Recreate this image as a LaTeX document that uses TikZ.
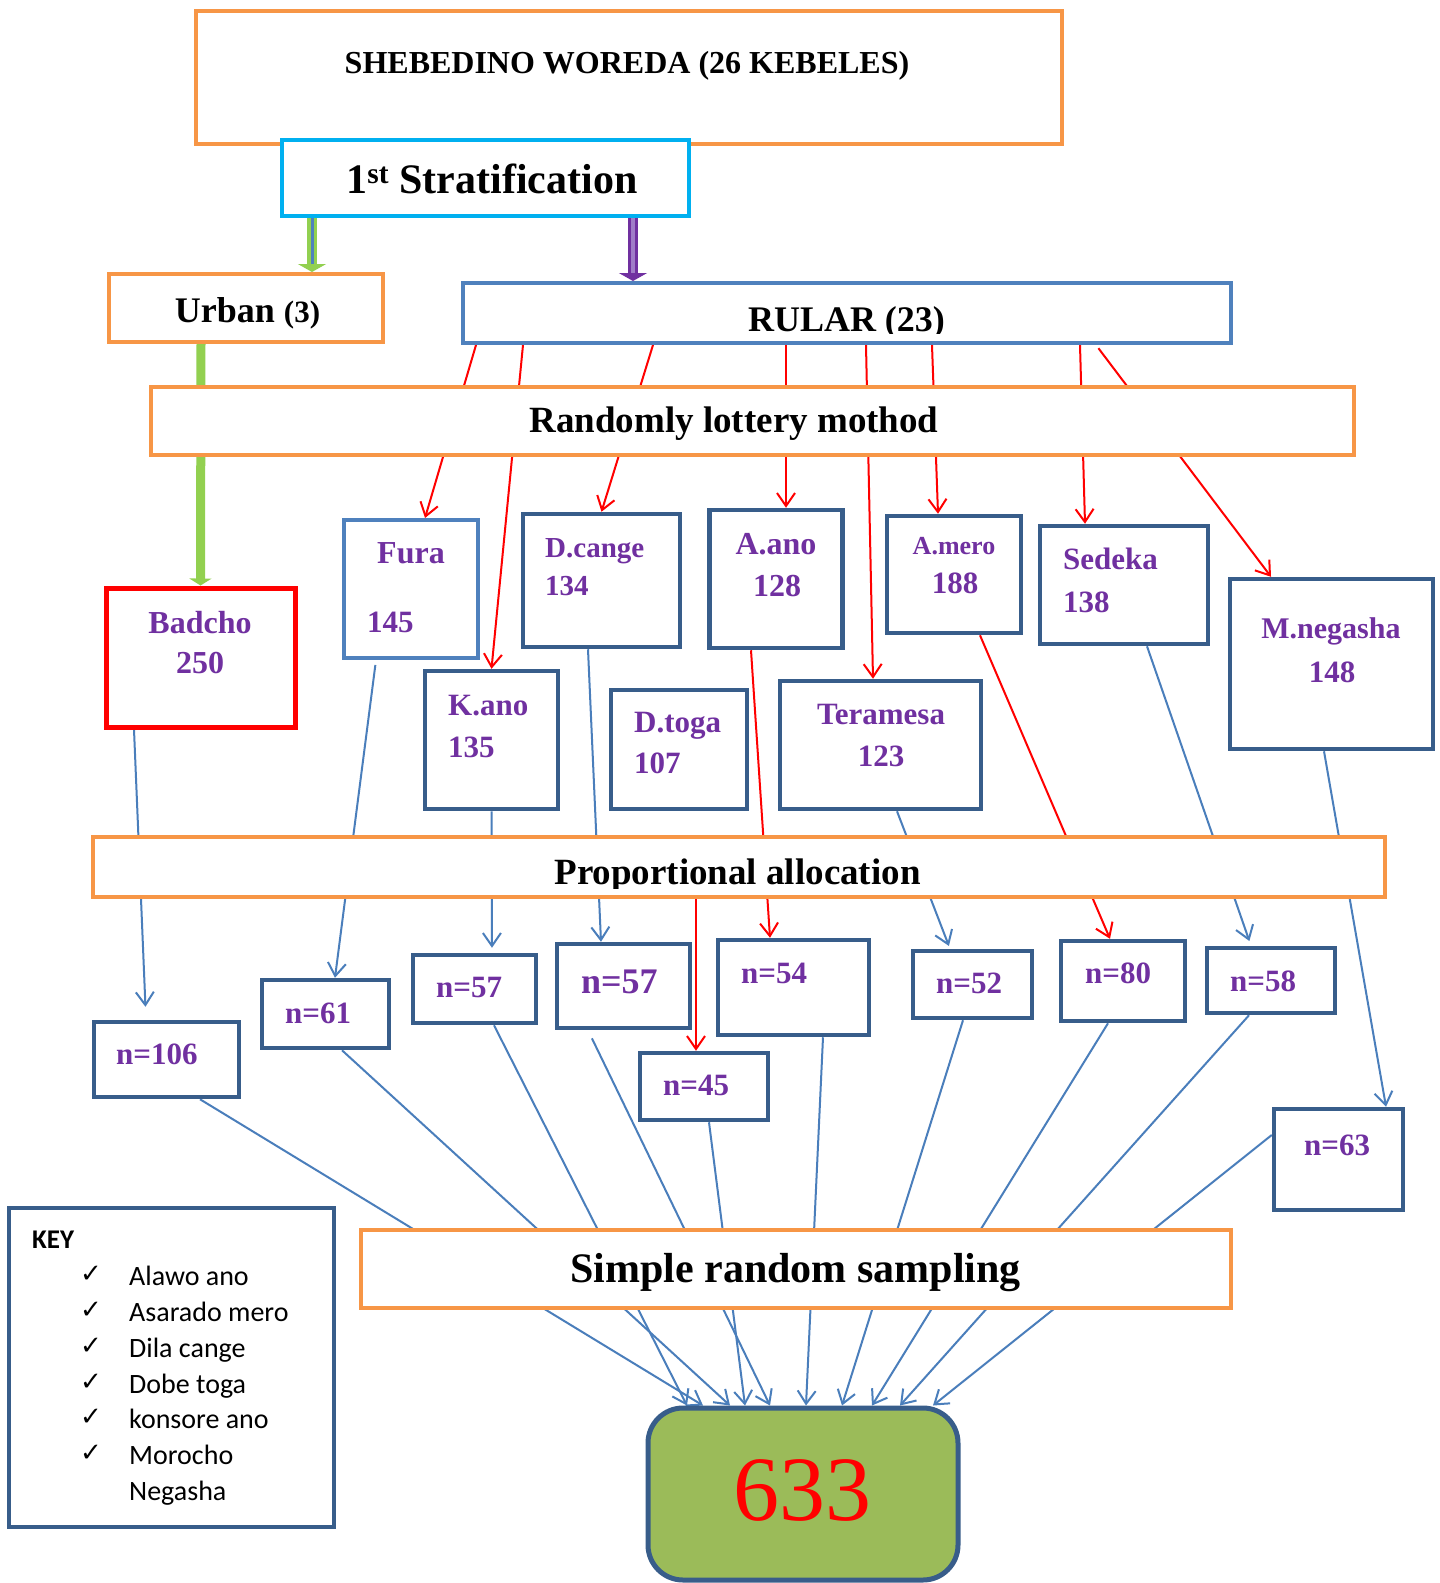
\documentclass[tikz,border=0pt]{standalone}
\usepackage{fontspec}
\setmainfont{Liberation Serif}
\newfontfamily\keyfont{Carlito}
\newfontfamily\chkfont{DejaVu Sans}
\usetikzlibrary{arrows.meta,backgrounds}
\definecolor{orng}{HTML}{F79646}
\definecolor{cyanb}{HTML}{00B0F0}
\definecolor{lblue}{HTML}{4F81BD}
\definecolor{dblue}{HTML}{385D8A}
\definecolor{cblue}{HTML}{4A7EBB}
\definecolor{grn}{HTML}{92D050}
\definecolor{purp}{HTML}{7030A0}
\definecolor{lilac}{HTML}{A07CC8}
\definecolor{olive}{HTML}{9BBB59}
\newcommand\fsz[1]{\fontsize{#1pt}{#1pt}\selectfont}
\begin{document}
\begin{tikzpicture}[x=1pt,y=-1pt,
  obox/.style={draw=orng, line width=4pt, fill=white, inner sep=0pt},
  bbox/.style={draw=dblue, line width=4.5pt, fill=white, inner sep=0pt},
  lbox/.style={draw=lblue, line width=4pt, fill=white, inner sep=0pt},
  ttl/.style={font={\bfseries\fsz{#1}}, inner sep=0pt, anchor=base},
  kt/.style={font={\bfseries\fsz{#1}}, text=purp, inner sep=0pt},
  keyt/.style={font={\keyfont\fsz{28}}, inner sep=0pt, anchor=base west},
  chk/.style={font={\chkfont\fsz{26}}, inner sep=0pt, anchor=base west},
  redarr/.style={draw=red, line width=2pt, -{Straight Barb[length=13pt,width=18pt]}},
  bluearr/.style={draw=cblue, line width=2pt, -{Straight Barb[length=13pt,width=18pt]}}]
\useasboundingbox (0,0) rectangle (1440,1583);

% ---------- top level boxes
\node[obox, minimum width=866pt, minimum height=133pt] (sheb) at (629,77.5) {};
\node[ttl=32] (tsheb) at (627,73) {SHEBEDINO WOREDA (26 KEBELES)};
\node[draw=cyanb, line width=4.5pt, fill=white, inner sep=0pt, minimum width=407pt, minimum height=76pt] (strat) at (485.5,178) {};
\node[ttl=42] (tstrat) at (492,193) {1\textsuperscript{st} Stratification};
\node[obox, minimum width=274pt, minimum height=68pt] (urban) at (246,308) {};
\node[ttl=36] (turban) at (247.5,322) {Urban {\fsz{31}(3)}};
\node[lbox, minimum width=768pt, minimum height=60pt] (rular) at (847,313) {};
\begin{scope}
  \clip (rular.north west) rectangle ([yshift=12pt]rular.south east);
  \node[ttl=36] (trular) at (846.5,331) {RULAR (23)};
\end{scope}
\node[obox, minimum width=1203pt, minimum height=68pt] (rlm) at (752.5,421) {};
\node[ttl=37] (trlm) at (734,432) {Randomly lottery mothod};

% ---------- kebele boxes
\node[draw=red, line width=5pt, fill=white, inner sep=0pt, minimum width=189pt, minimum height=139pt] (badcho) at (200.5,657.5) {};
\node[kt=32, anchor=base] (tbad1) at (200,633) {Badcho};
\node[kt=32, anchor=base] (tbad2) at (200,673) {250};

\node[lbox, minimum width=134pt, minimum height=138pt] (fura) at (411,589) {};
\node[kt=32, anchor=base] (tfura1) at (411,563) {Fura};
\node[kt=31, anchor=base west] (tfura2) at (367,632) {145};

\node[bbox, minimum width=133pt, minimum height=138pt] (kano) at (491.5,740) {};
\node[kt=31, anchor=base west] (tkano1) at (448,715) {K.ano};
\node[kt=31, anchor=base west] (tkano2) at (448,757) {135};

\node[bbox, minimum width=157pt, minimum height=133pt] (dcange) at (601.5,580.5) {};
\node[kt=29, anchor=base west] (tdc1) at (545,557) {D.cange};
\node[kt=29, anchor=base west] (tdc2) at (545,595) {134};

\node[bbox, minimum width=136pt, minimum height=119pt] (dtoga) at (679,749.5) {};
\node[kt=31, anchor=base west] (tdt1) at (634,732) {D.toga};
\node[kt=31, anchor=base west] (tdt2) at (634,773) {107};

\node[bbox, minimum width=133pt, minimum height=138pt] (aano) at (776,579) {};
\node[kt=32, anchor=base] (taa1) at (776,554) {A.ano};
\node[kt=32, anchor=base] (taa2) at (777,596) {128};

\node[bbox, minimum width=134pt, minimum height=117pt] (amero) at (954,574.5) {};
\node[kt=26, anchor=base] (tam1) at (954,554) {A.mero};
\node[kt=31, anchor=base] (tam2) at (955,593) {188};

\node[bbox, minimum width=168pt, minimum height=118pt] (sedeka) at (1124,585) {};
\node[kt=31, anchor=base west] (tse1) at (1063,569) {Sedeka};
\node[kt=31, anchor=base west] (tse2) at (1063,612) {138};

\node[bbox, minimum width=203pt, minimum height=170pt] (mneg) at (1331.5,664) {};
\node[kt=30, anchor=base] (tmn1) at (1331,638) {M.negasha};
\node[kt=31, anchor=base] (tmn2) at (1332,682) {148};

\node[bbox, minimum width=201pt, minimum height=128pt] (teramesa) at (880.5,745) {};
\node[kt=31, anchor=base] (tte1) at (881,724) {Teramesa};
\node[kt=31, anchor=base] (tte2) at (881,766) {123};

% ---------- proportional allocation
\node[obox, minimum width=1292pt, minimum height=60pt] (pa) at (739,867) {};
\begin{scope}
  \clip (pa.north west) rectangle ([yshift=11pt]pa.south east);
  \node[ttl=37] (tpa) at (737.5,884.5) {Proportional allocation};
\end{scope}

% ---------- sample size boxes
\node[bbox, minimum width=145pt, minimum height=75pt] (n106) at (166.5,1059.5) {};
\node[kt=31, anchor=base west] (tn106) at (116,1064) {n=106};
\node[bbox, minimum width=127pt, minimum height=68pt] (n61) at (325.5,1014) {};
\node[kt=31, anchor=base west] (tn61) at (285,1023) {n=61};
\node[bbox, minimum width=123pt, minimum height=68pt] (n57a) at (474.5,989) {};
\node[kt=31, anchor=base west] (tn57a) at (436,997) {n=57};
\node[bbox, minimum width=133pt, minimum height=84pt] (n57b) at (623.5,986) {};
\node[kt=36, anchor=base west] (tn57b) at (581,993) {n=57};
\node[bbox, minimum width=128pt, minimum height=67pt] (n45) at (704,1086.5) {};
\node[kt=31, anchor=base west] (tn45) at (663,1095) {n=45};
\node[bbox, minimum width=151pt, minimum height=95pt] (n54) at (793.5,987.5) {};
\node[kt=31, anchor=base west] (tn54) at (741,983) {n=54};
\node[bbox, minimum width=119pt, minimum height=67pt] (n52) at (972.5,984.5) {};
\node[kt=31, anchor=base west] (tn52) at (936,993) {n=52};
\node[bbox, minimum width=124pt, minimum height=80pt] (n80) at (1123,981) {};
\node[kt=31, anchor=base west] (tn80) at (1085,983) {n=80};
\node[bbox, minimum width=128pt, minimum height=65pt] (n58) at (1271,980.5) {};
\node[kt=31, anchor=base west] (tn58) at (1230,991) {n=58};
\node[bbox, minimum width=129pt, minimum height=101pt] (n63) at (1338.5,1159.5) {};
\node[kt=31, anchor=base west] (tn63) at (1304,1155) {n=63};

% ---------- simple random sampling and total
\node[obox, minimum width=870pt, minimum height=78pt] (srs) at (796,1269) {};
\node[ttl=42] (tsrs) at (795.5,1282) {Simple random sampling};
\node[draw=dblue, line width=5pt, fill=olive, rounded corners=35pt, inner sep=0pt, minimum width=310pt, minimum height=172pt] (b633) at (803,1494) {};
\node[font=\fsz{92}, text=red, inner sep=0pt, anchor=base] (t633) at (802,1520) {633};

% ---------- key
\node[bbox, minimum width=325pt, minimum height=319pt] (key) at (171.5,1367.5) {};
\node[font={\keyfont\bfseries\fsz{27}}, inner sep=0pt, anchor=base west] (tkey) at (32,1248) {KEY};
\node[chk] (c1) at (80,1282) {✓};
\node[keyt] (k1) at (129,1285) {Alawo ano};
\node[chk] (c2) at (80,1318) {✓};
\node[keyt] (k2) at (129,1321) {Asarado mero};
\node[chk] (c3) at (80,1354) {✓};
\node[keyt] (k3) at (129,1357) {Dila cange};
\node[chk] (c4) at (80,1390) {✓};
\node[keyt] (k4) at (129,1393) {Dobe toga};
\node[chk] (c5) at (80,1425) {✓};
\node[keyt] (k5) at (129,1428) {konsore ano};
\node[chk] (c6) at (80,1461) {✓};
\node[keyt] (k6) at (129,1464) {Morocho};
\node[keyt] (k7) at (129,1500) {Negasha};

% ---------- connectors (behind boxes)
\begin{scope}[on background layer]
\fill[white] (0,0) rectangle (1440,1583);
% stratification arrows
\draw[grn, line width=10pt, -{Triangle[length=8pt,width=28pt]}] ([xshift=-173.5pt]strat.south) -- ([xshift=66pt]urban.north);
\draw[lblue, line width=3pt] ([xshift=-173.5pt]strat.south) -- ([xshift=66pt,yshift=8pt]urban.north);
\draw[purp, line width=10pt, -{Triangle[length=8pt,width=28pt]}] ([xshift=147.5pt]strat.south) -- ([xshift=-214pt]rular.north);
\draw[lilac, line width=3.5pt] ([xshift=147.5pt]strat.south) -- ([xshift=-214pt,yshift=8pt]rular.north);
\draw[grn, line width=9pt, -{Triangle[length=7pt,width=22pt]}] ([xshift=-45pt]urban.south) -- (badcho.north);
% lottery (red)
\draw[redarr] ([xshift=-371pt]rular.south) -- ([xshift=14pt]fura.north);
\draw[redarr] ([xshift=-324pt]rular.south) -- (kano.north);
\draw[redarr] ([xshift=-194pt]rular.south) -- (dcange.north);
\draw[redarr] ([xshift=-61pt]rular.south) -- ([xshift=10pt]aano.north);
\draw[redarr] ([xshift=19pt]rular.south) -- ([xshift=-7.5pt]teramesa.north);
\draw[redarr] ([xshift=85pt]rular.south) -- ([xshift=-16pt]amero.north);
\draw[redarr] ([xshift=233pt]rular.south) -- ([xshift=-39pt]sedeka.north);
\draw[redarr, shorten <=4pt] ([xshift=249pt]rular.south) -- ([xshift=-60.5pt]mneg.north);
\draw[redarr] ([xshift=-25pt]aano.south) -- ([xshift=-23.5pt]n54.north);
\draw[redarr] ([xshift=26pt]amero.south) -- ([xshift=-13pt]n80.north);
\draw[redarr] ([xshift=-43pt]pa.south) -- ([xshift=-8pt]n45.north);
% proportional allocation (blue)
\draw[bluearr, shorten >=13pt] ([xshift=-66.5pt]badcho.south) -- ([xshift=-20.5pt]n106.north);
\draw[bluearr, shorten <=5pt] ([xshift=-35pt]fura.south) -- ([xshift=9.5pt]n61.north);
\draw[bluearr, shorten >=5pt] (kano.south) -- ([xshift=17.5pt]n57a.north);
\draw[bluearr] ([xshift=-13.5pt]dcange.south) -- ([xshift=-22.5pt]n57b.north);
\draw[bluearr, shorten >=3pt] ([xshift=16.5pt]teramesa.south) -- ([xshift=-22.5pt]n52.north);
\draw[bluearr, shorten >=5pt] ([xshift=23pt]sedeka.south) -- ([xshift=-20pt]n58.north);
\draw[bluearr] ([xshift=-7.5pt]mneg.south) -- ([xshift=47.5pt]n63.north);
% simple random sampling to total
\draw[bluearr] ([xshift=33.5pt]n106.south) -- ([xshift=-100pt]b633.north);
\draw[bluearr] ([xshift=16.5pt]n61.south) -- ([xshift=-73pt]b633.north);
\draw[bluearr] ([xshift=19.5pt]n57a.south) -- ([xshift=-116pt]b633.north);
\draw[bluearr, shorten <=9pt] ([xshift=-35.5pt]n57b.south) -- ([xshift=-33pt]b633.north);
\draw[bluearr] ([xshift=5pt]n45.south) -- ([xshift=-58pt]b633.north);
\draw[bluearr] ([xshift=29.5pt]n54.south) -- ([xshift=3pt]b633.north);
\draw[bluearr] ([xshift=-9.5pt]n52.south) -- ([xshift=39pt]b633.north);
\draw[bluearr] ([xshift=-15pt]n80.south) -- ([xshift=69pt]b633.north);
\draw[bluearr] ([xshift=-22pt]n58.south) -- ([xshift=97pt]b633.north);
\draw[bluearr] ([yshift=24.5pt]n63.west) -- ([xshift=130pt]b633.north);
\end{scope}
\end{tikzpicture}
\end{document}
